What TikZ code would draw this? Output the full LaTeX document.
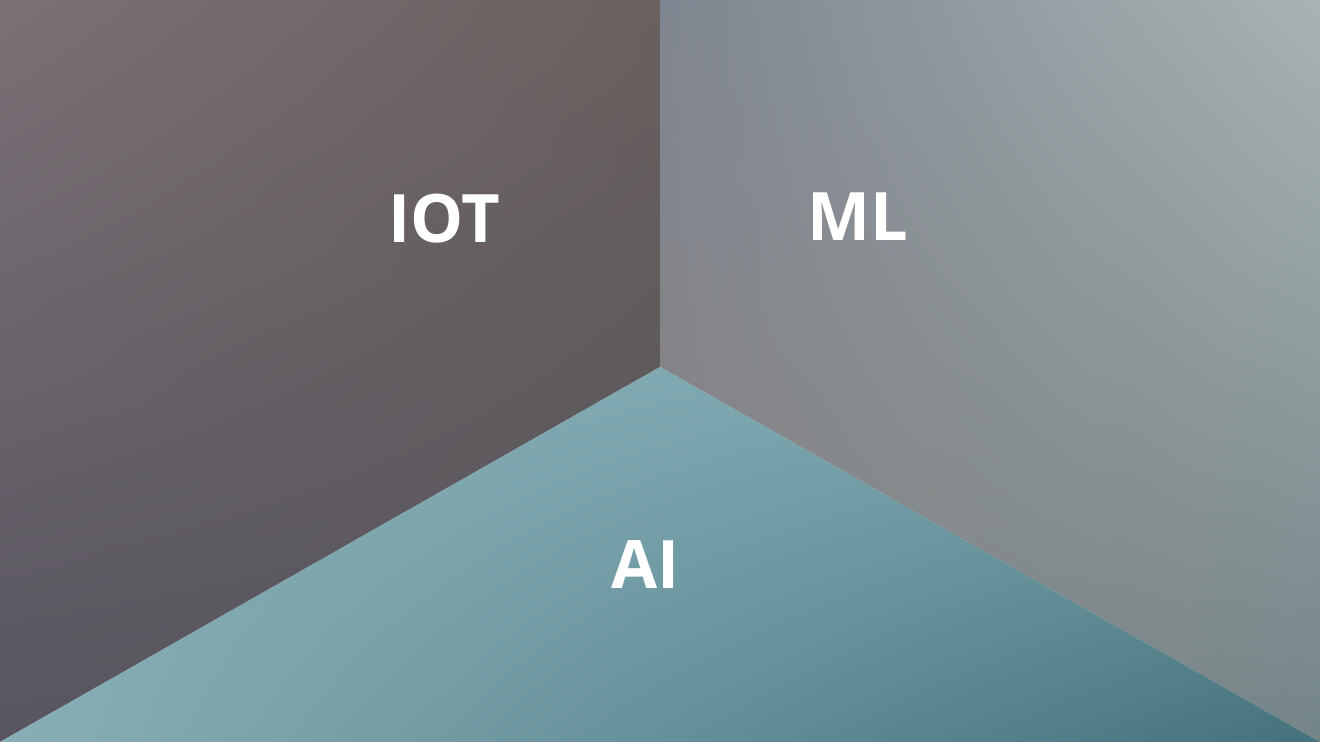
\documentclass[tikz,border=0pt]{standalone}
\usepackage{fontspec}
\setmainfont{Open Sans}
\usetikzlibrary{shadings}
\definecolor{iotTL}{HTML}{7A7176}
\definecolor{iotTR}{HTML}{6A605E}
\definecolor{iotBL}{HTML}{58555F}
\definecolor{iotBR}{HTML}{54545A}
\definecolor{mlTL}{HTML}{7F8590}
\definecolor{mlTR}{HTML}{A8B3B3}
\definecolor{mlBL}{HTML}{898380}
\definecolor{mlBR}{HTML}{748588}
\definecolor{aiTL}{HTML}{88B0B9}
\definecolor{aiTR}{HTML}{78A3AC}
\definecolor{aiBL}{HTML}{88AFB7}
\definecolor{aiBR}{HTML}{44717C}
\tikzset{
  label/.style={text=white, font=\fontsize{19}{23}\selectfont\bfseries, inner sep=0pt}
}
\begin{document}
\begin{tikzpicture}[x=0.01cm, y=-0.01cm]
      \useasboundingbox (0,0) rectangle (1320,742);
      \coordinate (apex) at (660,367);
      \coordinate (top) at (660,0);

      % IOT panel
      \begin{scope}
        \clip (0,0) -- (top) -- (apex) -- (0,742) -- cycle;
        \shade[upper left=iotTL, upper right=iotTR, lower left=iotBL, lower right=iotBR]
          (0,0) rectangle (660,742);
      \end{scope}

      % ML panel
      \begin{scope}
        \clip (top) -- (1320,0) -- (1320,742) -- (apex) -- cycle;
        \shade[upper left=mlTL, upper right=mlTR, lower left=mlBL, lower right=mlBR]
          (660,0) rectangle (1320,742);
      \end{scope}

      % AI panel
      \begin{scope}
        \clip (apex) -- (1320,742) -- (0,742) -- cycle;
        \shade[upper left=aiTL, upper right=aiTR, lower left=aiBL, lower right=aiBR]
          (0,367) rectangle (1320,742);
      \end{scope}

      \node[label] (iot) at (444,219) {IOT};
      \node[label] (ml) at (858,217) {ML};
      \node[label] (ai) at (646,565) {AI};
\end{tikzpicture}
\end{document}
